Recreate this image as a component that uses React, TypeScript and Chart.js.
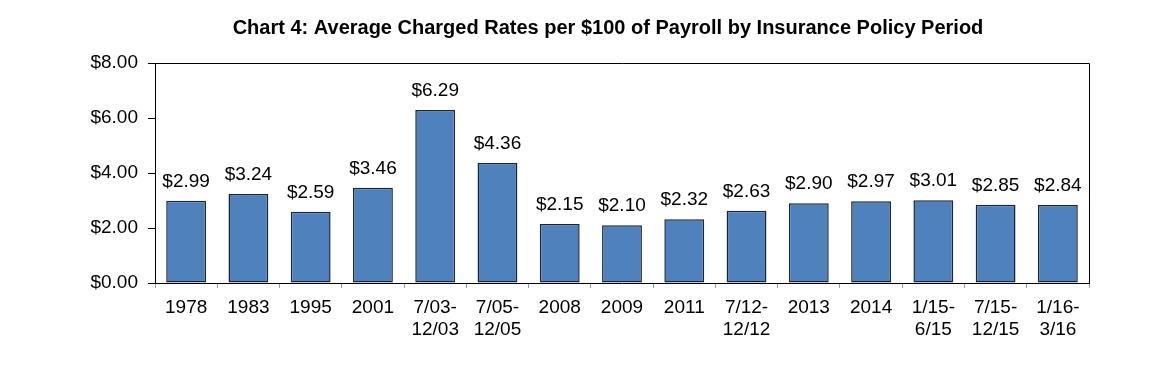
import React, { useEffect, useRef } from "react";
import { Chart, registerables } from "chart.js";

Chart.register(...registerables);

const TITLE = "Chart 4: Average Charged Rates per $100 of Payroll by Insurance Policy Period";
const categories: (string | string[])[] = [
  "1978", "1983", "1995", "2001", ["7/03-", "12/03"], ["7/05-", "12/05"], "2008", "2009", "2011",
  ["7/12-", "12/12"], "2013", "2014", ["1/15-", "6/15"], ["7/15-", "12/15"], ["1/16-", "3/16"],
];
const rates = [2.99, 3.24, 2.59, 3.46, 6.29, 4.36, 2.15, 2.1, 2.32, 2.63, 2.9, 2.97, 3.01, 2.85, 2.84];
const yTicks = [0, 2, 4, 6, 8];

const FONT = "'Liberation Sans', Arial, sans-serif";

const overlay = {
  id: "overlay",
  afterDatasetsDraw(chart: any) {
    const { ctx, chartArea } = chart;
    ctx.save();
    ctx.strokeStyle = "#000";
    ctx.lineWidth = 1;
    ctx.beginPath();
    ctx.moveTo(chartArea.left, chartArea.top + 0.5);
    ctx.lineTo(chartArea.right + 0.5, chartArea.top + 0.5);
    ctx.lineTo(chartArea.right + 0.5, chartArea.bottom);
    ctx.stroke();
    const meta = chart.getDatasetMeta(0);
    ctx.fillStyle = "#000";
    ctx.font = `19px ${FONT}`;
    ctx.textAlign = "center";
    ctx.textBaseline = "alphabetic";
    meta.data.forEach((bar: any, i: number) => {
      ctx.fillText("$" + rates[i].toFixed(2), bar.x, bar.y - 14);
    });
    ctx.font = `bold 20px ${FONT}`;
    ctx.textBaseline = "middle";
    ctx.fillText(TITLE, 608, 28);
    ctx.restore();
  },
};

export default function App() {
  const ref = useRef<HTMLCanvasElement>(null);
  useEffect(() => {
    const chart = new Chart(ref.current!, {
      type: "bar",
      data: {
        labels: categories,
        datasets: [
          {
            data: rates,
            backgroundColor: "#4F81BD",
            borderColor: "#1A2535",
            borderWidth: 1.5,
            borderSkipped: false,
            barPercentage: 0.64,
            categoryPercentage: 1,
          },
        ],
      },
      options: {
        responsive: false,
        animation: false,
        layout: { padding: { left: 0, right: 70, top: 63, bottom: 0 } },
        plugins: { legend: { display: false }, tooltip: { enabled: false }, title: { display: false } },
        scales: {
          x: {
            grid: { drawOnChartArea: false, offset: true, tickLength: 5, color: "#999" },
            border: { color: "#000" },
            ticks: {
              color: "#000",
              font: { family: FONT, size: 19, lineHeight: 1.15 },
              padding: 9,
              maxRotation: 0,
              autoSkip: false,
            },
            afterFit: (s: any) => { s.height = 376 - 63 - 220; },
          },
          y: {
            min: 0,
            max: 8,
            afterBuildTicks: (s: any) => { s.ticks = yTicks.map((v) => ({ value: v })); },
            grid: { drawOnChartArea: false, tickLength: 7, color: "#000" },
            border: { color: "#000" },
            ticks: {
              color: "#000",
              font: { family: FONT, size: 19 },
              padding: 10,
              callback: (v: any) => "$" + Number(v).toFixed(2),
            },
            afterFit: (s: any) => { s.width = 155; },
          },
        },
      },
      plugins: [overlay],
    });
    return () => chart.destroy();
  }, []);
  return (
    <div style={{ position: "absolute", left: 0, top: 0, width: 1159, height: 376, background: "#fff" }}>
      <canvas ref={ref} width={1159} height={376} />
    </div>
  );
}
